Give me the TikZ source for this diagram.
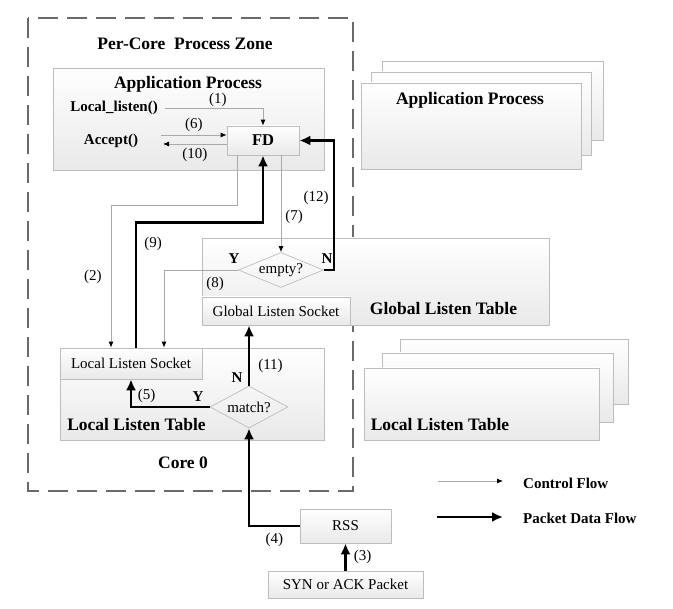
\documentclass[tikz,border=0pt]{standalone}
\usepackage{fontspec}
\setmainfont{Liberation Serif}
\usetikzlibrary{arrows.meta, positioning, shapes.geometric}
\definecolor{boxline}{HTML}{BDBDBD}
\definecolor{boxfill}{HTML}{E9E9E9}
\definecolor{zone}{HTML}{6A6A6A}
\definecolor{thin}{HTML}{A9A9A9}

\begin{document}
\begin{tikzpicture}[
  x=1pt, y=-1pt,
  block/.style={
    rectangle, draw=boxline, top color=white, bottom color=boxfill,
    inner sep=0pt, line width=0.7pt,
  },
  decide/.style={
    diamond, draw=boxline, aspect=2.5, inner sep=0pt, line width=0.7pt,
    font=\fontsize{15}{18}\selectfont,
  },
  heading/.style={inner sep=0pt, font=\fontsize{17.5}{20}\selectfont\bfseries},
  label/.style={inner sep=0pt, font=\fontsize{15}{18}\selectfont},
  bold/.style={inner sep=0pt, font=\fontsize{15}{18}\selectfont\bfseries},
  ctrl/.style={-{Latex[length=6pt, width=5pt, color=black]}, draw=thin, line width=0.8pt},
  data/.style={-{Latex[length=11pt, width=10pt]}, line width=2.6pt},
]
\useasboundingbox (0,0) rectangle (673,609);

% per-core zone
\draw[zone, line width=2.4pt, dash pattern=on 20pt off 9pt] (28,18) rectangle (353,491);
\node[heading] (zonetitle) at (185,44) {Per-Core~~Process Zone};

% application process
\node[block, minimum width=271pt, minimum height=102pt] (app) at (188.5,119) {};
\node[heading] (apptitle) at (188,84) {Application Process};
\node[bold] (listen) at (114,108) {Local\_listen()};
\node[bold] (accept) at (111,141) {Accept()};
\node[block, minimum width=72pt, minimum height=29pt, font=\fontsize{16.5}{18}\selectfont\bfseries] (fd) at (263,140.5) {FD};
\coordinate (acc6) at (161,135);
\coordinate (acc10) at (163,144);

% other application processes
\node[block, minimum width=221pt, minimum height=79pt] (appc) at (492.5,100.5) {};
\node[block, minimum width=220pt, minimum height=83pt] (appb) at (481,113.5) {};
\node[block, minimum width=220pt, minimum height=86pt] (appa) at (471,126) {};
\node[heading] (appatitle) at (470,100) {Application Process};

% global listen table
\node[block, minimum width=347pt, minimum height=87pt] (glt) at (375.5,281.5) {};
\node[block, minimum width=148pt, minimum height=28pt, font=\fontsize{15}{18}\selectfont] (gls) at (276,311) {Global Listen Socket};
\node[heading] (glttitle) at (443.5,309) {Global Listen Table};
\node[decide, minimum width=85pt, minimum height=35pt] (empty) at (281,270) {empty?};

% local listen table
\node[block, minimum width=264pt, minimum height=92pt] (llt) at (192,394) {};
\node[block, minimum width=142pt, minimum height=31pt, font=\fontsize{15}{18}\selectfont] (lls) at (131,363.5) {Local Listen Socket};
\node[heading] (llttitle) at (136.5,425) {Local Listen Table};
\node[decide, minimum width=78pt, minimum height=42pt] (match) at (249,407) {match?};
\node[heading] (core) at (183,463) {Core 0};

% other local listen tables
\node[block, minimum width=228pt, minimum height=65pt] (lltc) at (514,371.5) {};
\node[block, minimum width=231pt, minimum height=69pt] (lltb) at (497.5,387.5) {};
\node[block, minimum width=235pt, minimum height=72pt] (llta) at (481.5,404) {};
\node[heading] (lltatitle) at (440,425) {Local Listen Table};

% packet input
\node[block, minimum width=91pt, minimum height=34pt, font=\fontsize{15}{18}\selectfont] (rss) at (345.5,526) {RSS};
\node[block, minimum width=155pt, minimum height=27pt, font=\fontsize{15}{18}\selectfont] (syn) at (345.5,584.5) {SYN or ACK Packet};

% control flow
\draw[ctrl] ([xshift=7pt]listen.east) -| (fd.north) node[label, pos=0.27, above=0.5pt] {(1)};
\draw[ctrl] (acc6) -- (acc6 -| fd.west) node[label, midway, above=3pt] {(6)};
\draw[ctrl] (acc10 -| fd.west) -- (acc10) node[label, midway, below=4pt] {(10)};
\draw[ctrl] ([xshift=-26pt]fd.south) -- ++(0,50) -| ([xshift=-20pt]lls.north) node[label, pos=0.75, left=9pt] {(2)};
\draw[ctrl] (fd.south -| empty.north) -- (empty.north) node[label, pos=0.64, right=4pt] {(7)};
\draw[ctrl] (empty.west) -| ([xshift=33pt]lls.north);

% packet data flow
\draw[data] (syn.north) -- (rss.south) node[label, midway, right=7pt] {(3)};
\draw[data] (rss.west) -| (match.south) node[label, pos=0.25, below=6pt] {(4)};
\draw[data] (match.west) -| (lls.south) node[label, pos=0.4, above=3pt] {(5)};
\draw[data] (match.north) -- (match.north |- gls.south) node[label, pos=0.32, right=8pt] {(11)};
\draw[data] ([xshift=5pt]lls.north) -- ++(0,-125) node[label, pos=0.83, right=7pt] {(9)} -| (fd.south);
\draw[data] (empty.east) -- ++(10,0) |- (fd.east) node[label, pos=0.28, left=4pt] {(12)};

% decision labels
\node[bold] (emptyyes) at (234,259) {Y};
\node[bold] (emptyno) at (327,259) {N};
\node[label] (step8) at (215,284) {(8)};
\node[bold] (matchyes) at (198,397) {Y};
\node[bold] (matchno) at (237,378) {N};

% legend
\coordinate (ctrlfrom) at (438,481);
\coordinate (ctrlto) at (503,481);
\coordinate (datafrom) at (437,517);
\coordinate (datato) at (503,517);
\draw[ctrl] (ctrlfrom) -- (ctrlto);
\draw[data] (datafrom) -- (datato);
\node[bold, anchor=west] (ctrltext) at (523,483) {Control Flow};
\node[bold, anchor=west] (datatext) at (523,518) {Packet Data Flow};
\end{tikzpicture}
\end{document}
